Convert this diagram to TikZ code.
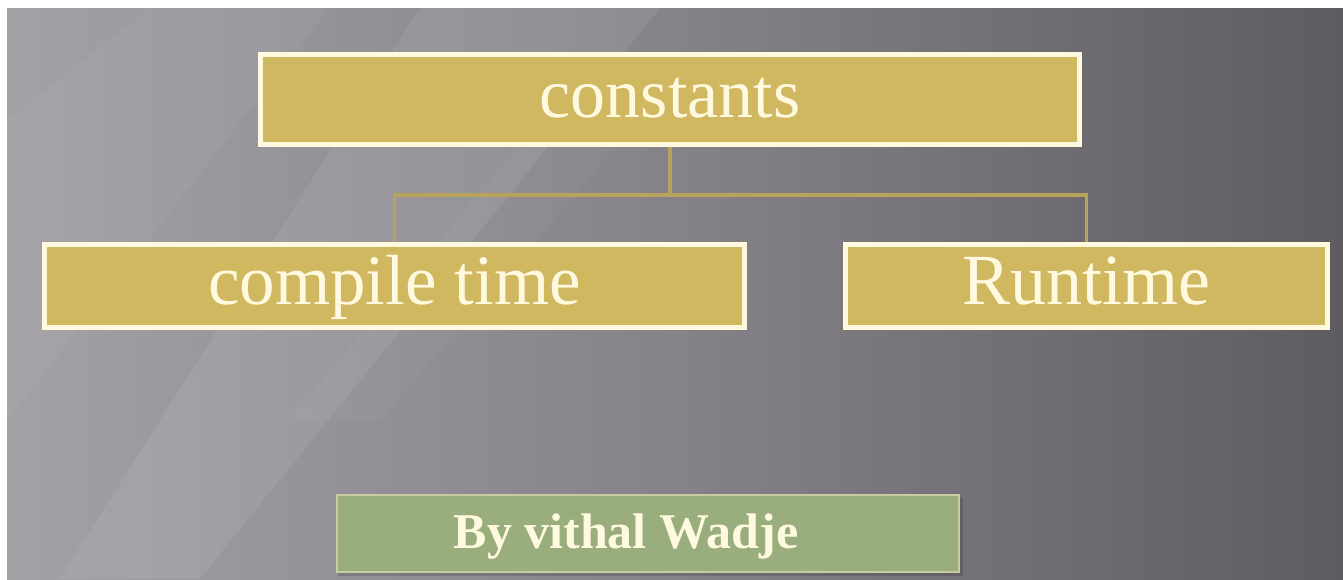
\documentclass[tikz,border=0pt]{standalone}
\usepackage{fontspec}
\setmainfont{Liberation Serif}
\usetikzlibrary{calc}
\definecolor{bgL}{HTML}{A3A1A6}
\definecolor{bgM}{HTML}{858388}
\definecolor{bgR}{HTML}{5E5C61}
\definecolor{gold}{HTML}{D0B860}
\definecolor{cream}{HTML}{FFF9E0}
\definecolor{linegold}{HTML}{B8A35C}
\definecolor{sage}{HTML}{9AAD7C}
\definecolor{sageedge}{HTML}{C9CBA2}
\tikzset{
  goldbox/.style={draw=cream, line width=5pt, fill=gold, inner sep=0pt,
    text=cream, text height=50pt, text depth=14pt},
  conn/.style={draw=linegold, line width=3.5pt},
  greenbox/.style={draw=sageedge, line width=2pt, fill=sage, inner sep=0pt},
}
\begin{document}
\begin{tikzpicture}[x=1pt,y=-1pt]
\useasboundingbox (0,0) rectangle (1343,579);
\fill[white] (0,0) rectangle (1343,579);
\shade[left color=bgL, right color=bgR, middle color=bgM] (7,8) rectangle (1343,579);
% light diagonal streaks
\fill[white, opacity=0.07] (420,8) -- (660,8) -- (200,579) -- (60,579) -- cycle;
\fill[white, opacity=0.04] (7,120) -- (150,8) -- (330,8) -- (7,420) -- cycle;
\fill[white, opacity=0.03] (540,120) -- (640,120) -- (380,420) -- (290,420) -- cycle;
% boxes
\node[goldbox, minimum width=819pt, minimum height=90pt, font=\fontsize{70}{70}\selectfont]
  (c) at (670,99.5) {constants};
\node[goldbox, minimum width=700pt, minimum height=83pt, font=\fontsize{71}{71}\selectfont]
  (ct) at (394.5,286) {compile time};
\node[goldbox, minimum width=482pt, minimum height=83pt, font=\fontsize{72}{72}\selectfont]
  (rt) at (1086.5,286) {Runtime};
% connectors
\draw[conn] (c.south) -- ++(0,48) -| (ct.north);
\draw[conn] (c.south) -- ++(0,48) -| (rt.north);
% author box
\fill[black, opacity=0.15] (338,497) rectangle (963,576);
\node[greenbox, minimum width=622pt, minimum height=77pt] (gb) at (648,533.5) {};
\node[text=cream, font=\bfseries\fontsize{50}{50}\selectfont, inner sep=0pt,
  anchor=base] (gbt) at ([xshift=-22pt,yshift=-15pt]gb.center) {By vithal Wadje};
\end{tikzpicture}
\end{document}
